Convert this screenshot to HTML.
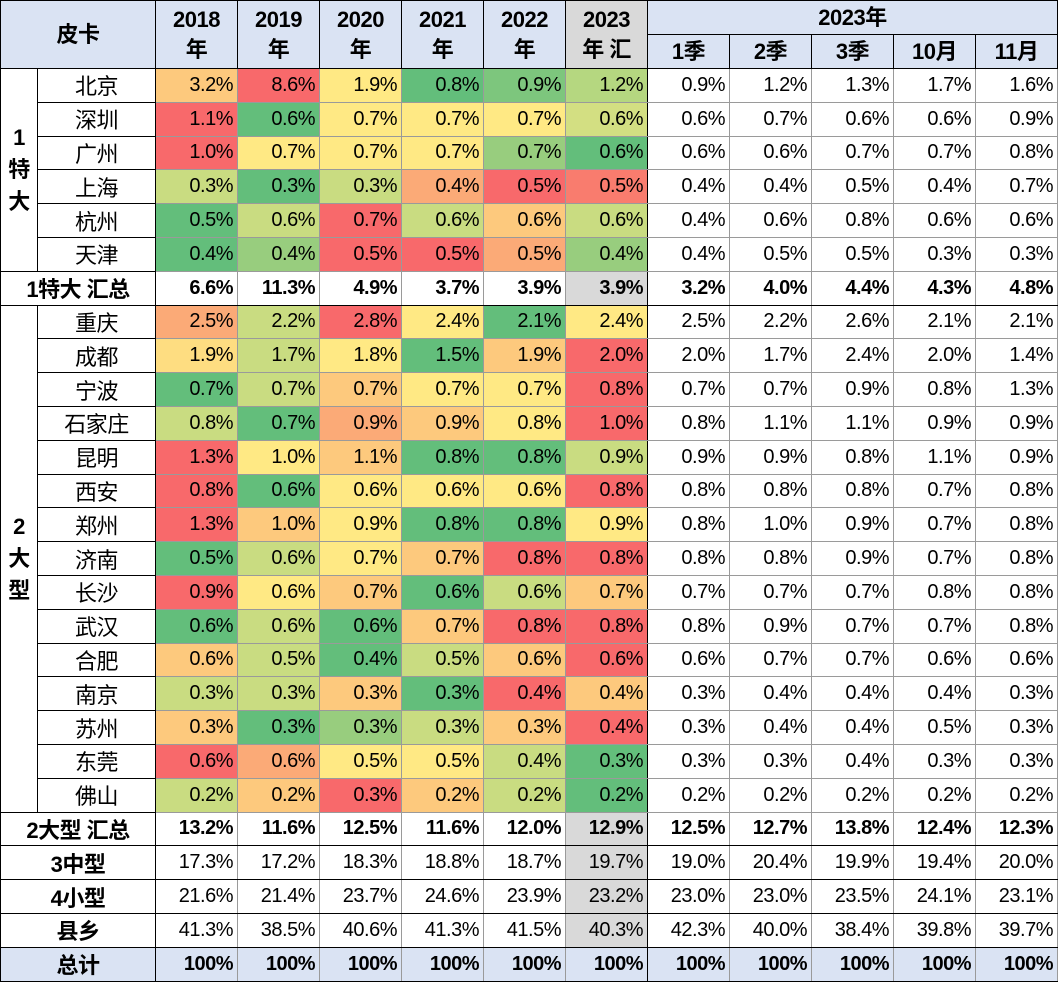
<!DOCTYPE html>
<html><head><meta charset="utf-8"><style>
body{margin:0;background:#fff;}
table{border-collapse:collapse;table-layout:fixed;width:1057px;font-family:"Liberation Sans","Noto Sans CJK SC",sans-serif;font-size:20px;color:#000;}
td{border:1px solid #9a9a9a;padding:0 4px 0 0;text-align:right;height:32.8px;white-space:nowrap;overflow:hidden;letter-spacing:-0.5px;}
.h td{background:#dae3f3;font-weight:bold;text-align:center;padding:0;border:1.5px solid #000;height:33px;line-height:30px;font-size:22px;}
.h td.gy{background:#d9d9d9;}
td.c{text-align:center;padding:0;border:1.5px solid #000;font-size:22px;}
td.grp{font-weight:bold;text-align:center;padding:0;border:1.5px solid #000;line-height:32px;white-space:normal;font-size:22px;}
.s td{font-weight:bold;border-top:1.5px solid #000;border-bottom:1.5px solid #000;}
.s td.l{text-align:center;padding:0;border:1.5px solid #000;font-size:22px;}
.t td{background:#dae3f3;font-weight:bold;}
.t td.l{text-align:center;padding:0;border:1.5px solid #000;}
td.gy{background:#d9d9d9;}
.r{background:#f8696b}.o{background:#fbaa77}.lo{background:#fdc97d}.y{background:#ffe984}.lg{background:#c9dc81}.g2{background:#98cd7e}.g{background:#63be7b}
td.sep{border-right:1.5px solid #000;}
td.n{font-weight:normal !important;}
</style></head><body>
<table>
<colgroup><col style="width:37px"><col style="width:118px"><col span="11" style="width:82px"></colgroup>
<tr class="h"><td colspan="2" rowspan="2">皮卡</td><td rowspan="2">2018<br>年</td><td rowspan="2">2019<br>年</td><td rowspan="2">2020<br>年</td><td rowspan="2">2021<br>年</td><td rowspan="2">2022<br>年</td><td rowspan="2" class="gy">2023<br>年 汇</td><td colspan="5">2023年</td></tr>
<tr class="h"><td>1季</td><td>2季</td><td>3季</td><td>10月</td><td>11月</td></tr>
<tr><td class="grp" rowspan="6">1<br>特<br>大</td><td class="c">北京</td><td class="lo">3.2%</td><td class="r">8.6%</td><td class="y">1.9%</td><td class="g">0.8%</td><td class="g" style="background:#7dc67d">0.9%</td><td class="lg sep" style="background:#b5d780">1.2%</td><td>0.9%</td><td>1.2%</td><td>1.3%</td><td>1.7%</td><td>1.6%</td></tr>
<tr><td class="c">深圳</td><td class="r">1.1%</td><td class="g">0.6%</td><td class="y">0.7%</td><td class="y">0.7%</td><td class="y">0.7%</td><td class="lg sep" style="background:#d3df82">0.6%</td><td>0.6%</td><td>0.7%</td><td>0.6%</td><td>0.6%</td><td>0.9%</td></tr>
<tr><td class="c">广州</td><td class="r">1.0%</td><td class="y">0.7%</td><td class="y">0.7%</td><td class="y">0.7%</td><td class="g2">0.7%</td><td class="g sep">0.6%</td><td>0.6%</td><td>0.6%</td><td>0.7%</td><td>0.7%</td><td>0.8%</td></tr>
<tr><td class="c">上海</td><td class="lg">0.3%</td><td class="g">0.3%</td><td class="lg">0.3%</td><td class="o">0.4%</td><td class="r">0.5%</td><td class="r sep" style="background:#f97c6e">0.5%</td><td>0.4%</td><td>0.4%</td><td>0.5%</td><td>0.4%</td><td>0.7%</td></tr>
<tr><td class="c">杭州</td><td class="g">0.5%</td><td class="lg">0.6%</td><td class="r">0.7%</td><td class="lg">0.6%</td><td class="lo">0.6%</td><td class="lg sep">0.6%</td><td>0.4%</td><td>0.6%</td><td>0.8%</td><td>0.6%</td><td>0.6%</td></tr>
<tr><td class="c">天津</td><td class="g">0.4%</td><td class="g2">0.4%</td><td class="r">0.5%</td><td class="r">0.5%</td><td class="o">0.5%</td><td class="g2 sep">0.4%</td><td>0.4%</td><td>0.5%</td><td>0.5%</td><td>0.3%</td><td>0.3%</td></tr>
<tr class="s"><td class="l" colspan="2">1特大 汇总</td><td>6.6%</td><td>11.3%</td><td>4.9%</td><td>3.7%</td><td>3.9%</td><td class="gy sep">3.9%</td><td>3.2%</td><td>4.0%</td><td>4.4%</td><td>4.3%</td><td>4.8%</td></tr>
<tr><td class="grp" rowspan="15">2<br>大<br>型</td><td class="c">重庆</td><td class="o">2.5%</td><td class="lg">2.2%</td><td class="r">2.8%</td><td class="y">2.4%</td><td class="g">2.1%</td><td class="y sep">2.4%</td><td>2.5%</td><td>2.2%</td><td>2.6%</td><td>2.1%</td><td>2.1%</td></tr>
<tr><td class="c">成都</td><td class="lo" style="background:#fedd81">1.9%</td><td class="lg">1.7%</td><td class="y">1.8%</td><td class="g">1.5%</td><td class="lo">1.9%</td><td class="r sep">2.0%</td><td>2.0%</td><td>1.7%</td><td>2.4%</td><td>2.0%</td><td>1.4%</td></tr>
<tr><td class="c">宁波</td><td class="g">0.7%</td><td class="lg">0.7%</td><td class="lo">0.7%</td><td class="y">0.7%</td><td class="y">0.7%</td><td class="r sep">0.8%</td><td>0.7%</td><td>0.7%</td><td>0.9%</td><td>0.8%</td><td>1.3%</td></tr>
<tr><td class="c">石家庄</td><td class="lg">0.8%</td><td class="g">0.7%</td><td class="o">0.9%</td><td class="lo">0.9%</td><td class="y">0.8%</td><td class="r sep">1.0%</td><td>0.8%</td><td>1.1%</td><td>1.1%</td><td>0.9%</td><td>0.9%</td></tr>
<tr><td class="c">昆明</td><td class="r">1.3%</td><td class="y">1.0%</td><td class="lo">1.1%</td><td class="g">0.8%</td><td class="g">0.8%</td><td class="lg sep">0.9%</td><td>0.9%</td><td>0.9%</td><td>0.8%</td><td>1.1%</td><td>0.9%</td></tr>
<tr><td class="c">西安</td><td class="r">0.8%</td><td class="g">0.6%</td><td class="y">0.6%</td><td class="y">0.6%</td><td class="y">0.6%</td><td class="r sep">0.8%</td><td>0.8%</td><td>0.8%</td><td>0.8%</td><td>0.7%</td><td>0.8%</td></tr>
<tr><td class="c">郑州</td><td class="r">1.3%</td><td class="lo">1.0%</td><td class="y">0.9%</td><td class="g">0.8%</td><td class="g">0.8%</td><td class="y sep">0.9%</td><td>0.8%</td><td>1.0%</td><td>0.9%</td><td>0.7%</td><td>0.8%</td></tr>
<tr><td class="c">济南</td><td class="g">0.5%</td><td class="lg">0.6%</td><td class="y">0.7%</td><td class="lo">0.7%</td><td class="r">0.8%</td><td class="r sep">0.8%</td><td>0.8%</td><td>0.8%</td><td>0.9%</td><td>0.7%</td><td>0.8%</td></tr>
<tr><td class="c">长沙</td><td class="r">0.9%</td><td class="y">0.6%</td><td class="lo">0.7%</td><td class="g">0.6%</td><td class="lg">0.6%</td><td class="lo sep">0.7%</td><td>0.7%</td><td>0.7%</td><td>0.7%</td><td>0.8%</td><td>0.8%</td></tr>
<tr><td class="c">武汉</td><td class="g">0.6%</td><td class="lg">0.6%</td><td class="g">0.6%</td><td class="lo">0.7%</td><td class="r">0.8%</td><td class="r sep">0.8%</td><td>0.8%</td><td>0.9%</td><td>0.7%</td><td>0.7%</td><td>0.8%</td></tr>
<tr><td class="c">合肥</td><td class="lo">0.6%</td><td class="lg">0.5%</td><td class="g">0.4%</td><td class="lg">0.5%</td><td class="lo">0.6%</td><td class="r sep">0.6%</td><td>0.6%</td><td>0.7%</td><td>0.7%</td><td>0.6%</td><td>0.6%</td></tr>
<tr><td class="c">南京</td><td class="lg">0.3%</td><td class="lg">0.3%</td><td class="lo">0.3%</td><td class="g">0.3%</td><td class="r">0.4%</td><td class="lo sep">0.4%</td><td>0.3%</td><td>0.4%</td><td>0.4%</td><td>0.4%</td><td>0.3%</td></tr>
<tr><td class="c">苏州</td><td class="lo">0.3%</td><td class="g">0.3%</td><td class="g2">0.3%</td><td class="lg">0.3%</td><td class="lo">0.3%</td><td class="r sep">0.4%</td><td>0.3%</td><td>0.4%</td><td>0.4%</td><td>0.5%</td><td>0.3%</td></tr>
<tr><td class="c">东莞</td><td class="r">0.6%</td><td class="o">0.6%</td><td class="y">0.5%</td><td class="y">0.5%</td><td class="lg">0.4%</td><td class="g sep">0.3%</td><td>0.3%</td><td>0.3%</td><td>0.4%</td><td>0.3%</td><td>0.3%</td></tr>
<tr><td class="c">佛山</td><td class="lg">0.2%</td><td class="lo">0.2%</td><td class="r">0.3%</td><td class="lo">0.2%</td><td class="lg">0.2%</td><td class="g sep">0.2%</td><td>0.2%</td><td>0.2%</td><td>0.2%</td><td>0.2%</td><td>0.2%</td></tr>
<tr class="s"><td class="l" colspan="2">2大型 汇总</td><td>13.2%</td><td>11.6%</td><td>12.5%</td><td>11.6%</td><td>12.0%</td><td class="gy sep">12.9%</td><td>12.5%</td><td>12.7%</td><td>13.8%</td><td>12.4%</td><td>12.3%</td></tr>
<tr class="s"><td class="l" colspan="2">3中型</td><td class="n">17.3%</td><td class="n">17.2%</td><td class="n">18.3%</td><td class="n">18.8%</td><td class="n">18.7%</td><td class="gy sep n">19.7%</td><td class="n">19.0%</td><td class="n">20.4%</td><td class="n">19.9%</td><td class="n">19.4%</td><td class="n">20.0%</td></tr>
<tr class="s"><td class="l" colspan="2">4小型</td><td class="n">21.6%</td><td class="n">21.4%</td><td class="n">23.7%</td><td class="n">24.6%</td><td class="n">23.9%</td><td class="gy sep n">23.2%</td><td class="n">23.0%</td><td class="n">23.0%</td><td class="n">23.5%</td><td class="n">24.1%</td><td class="n">23.1%</td></tr>
<tr class="s"><td class="l" colspan="2">县乡</td><td class="n">41.3%</td><td class="n">38.5%</td><td class="n">40.6%</td><td class="n">41.3%</td><td class="n">41.5%</td><td class="gy sep n">40.3%</td><td class="n">42.3%</td><td class="n">40.0%</td><td class="n">38.4%</td><td class="n">39.8%</td><td class="n">39.7%</td></tr>
<tr class="s t"><td class="l" colspan="2">总计</td><td>100%</td><td>100%</td><td>100%</td><td>100%</td><td>100%</td><td class="sep">100%</td><td>100%</td><td>100%</td><td>100%</td><td>100%</td><td>100%</td></tr>
</table>
</body></html>
